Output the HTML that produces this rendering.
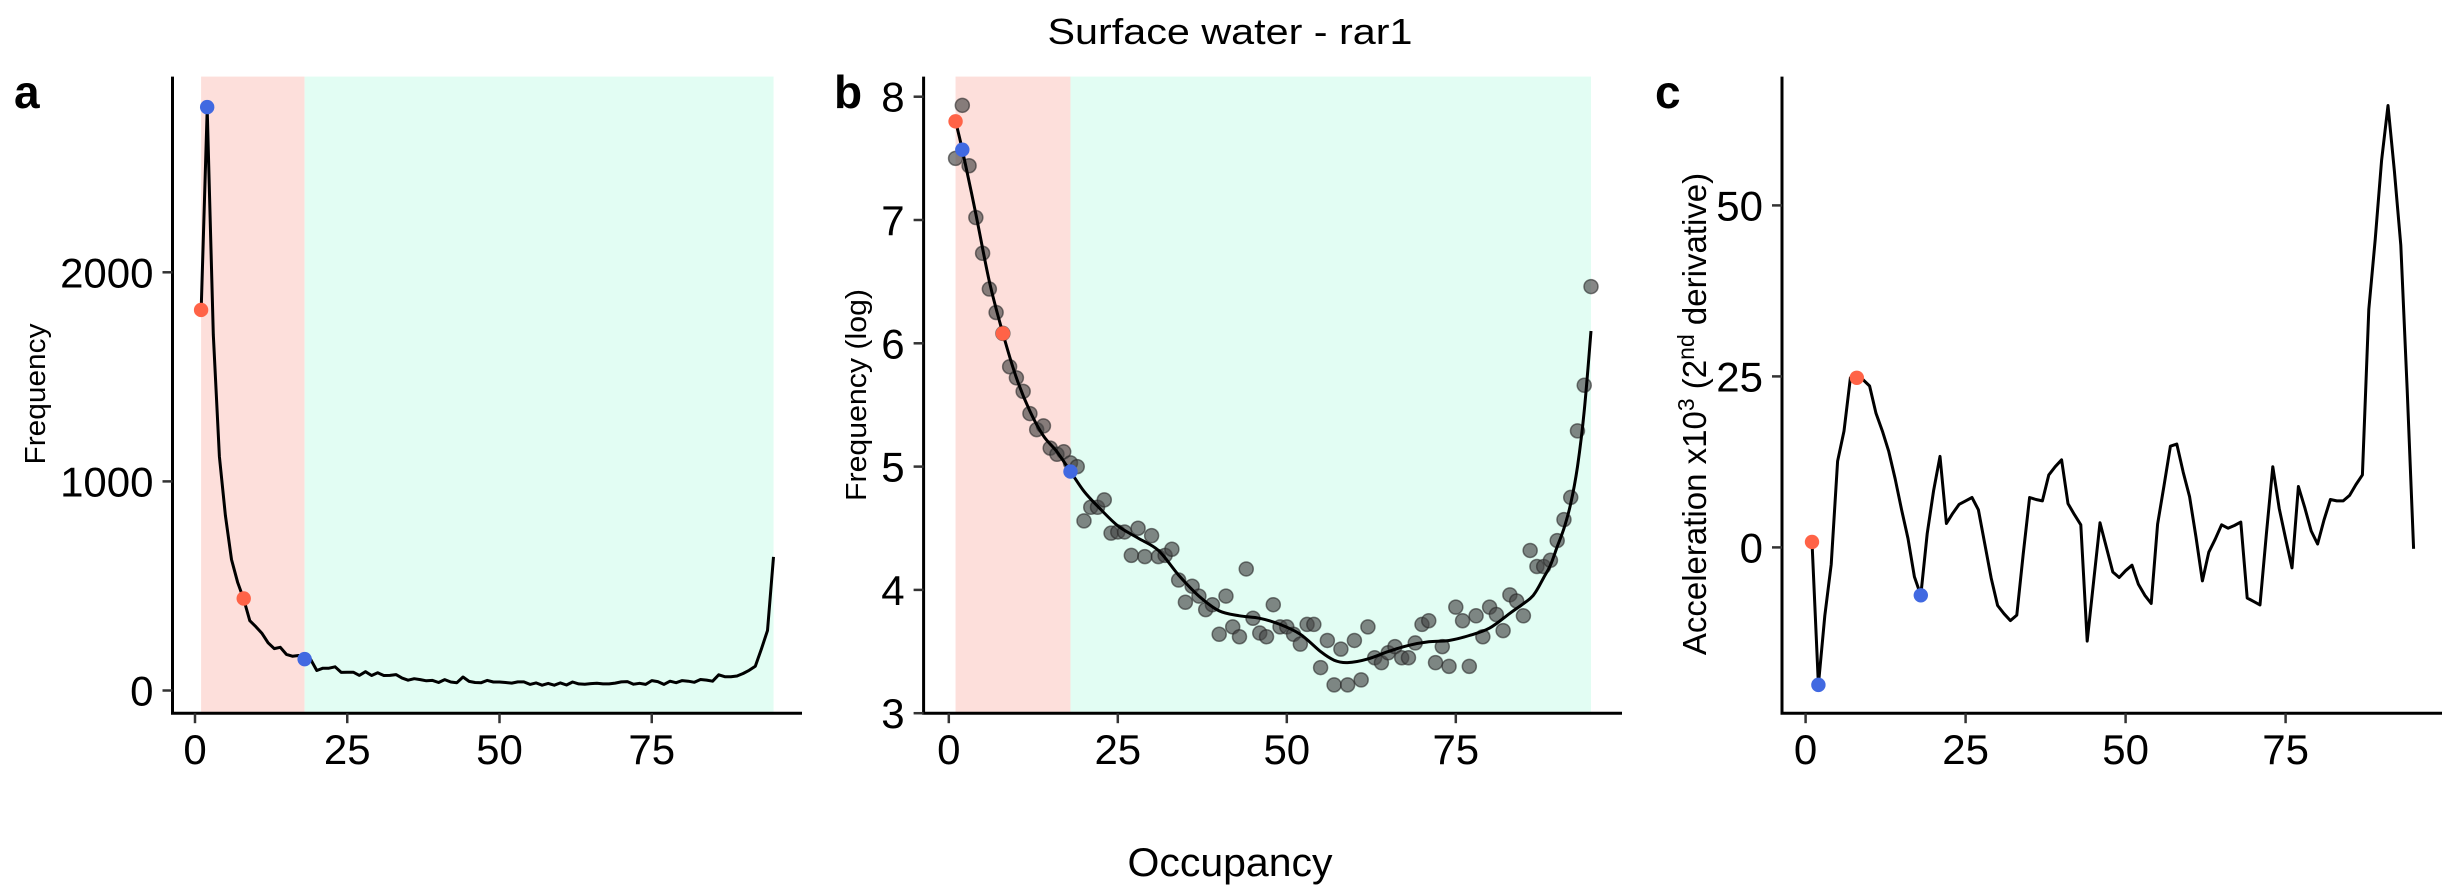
<!DOCTYPE html>
<html><head><meta charset="utf-8"><style>
html,body{margin:0;padding:0;background:#fff;}
svg{display:block;font-family:"Liberation Sans",Arial,sans-serif;}
</style></head><body>
<svg id="chart" width="2460" height="885" viewBox="0 0 2460 885" xmlns="http://www.w3.org/2000/svg">
<text x="1230" y="44" font-size="36" text-anchor="middle" textLength="365" lengthAdjust="spacingAndGlyphs">Surface water - rar1</text>
<text x="1230" y="876" font-size="40" text-anchor="middle" textLength="205" lengthAdjust="spacingAndGlyphs">Occupancy</text>
<g id="pa"></g>
<g id="pb"></g>
<g id="pc"></g>
</svg>
<script>
// ---- data ----
const logFrequency = [7.5,7.93,7.44,7.02,6.73,6.44,6.25,6.08,5.81,5.72,5.61,5.43,5.3,5.33,5.15,5.1,5.12,5.03,5.0,4.56,
4.67,4.67,4.73,4.46,4.47,4.47,4.28,4.5,4.27,4.44,4.27,4.28,4.33,4.08,3.9,4.03,3.95,3.84,3.88,3.64,
3.95,3.7,3.62,4.17,3.77,3.65,3.62,3.88,3.7,3.7,3.64,3.56,3.72,3.72,3.37,3.59,3.23,3.52,3.23,3.59,
3.27,3.7,3.45,3.41,3.49,3.54,3.45,3.45,3.57,3.72,3.75,3.41,3.54,3.38,3.86,3.75,3.38,3.79,3.62,3.86,
3.8,3.67,3.96,3.91,3.79,4.32,4.19,4.19,4.24,4.4,4.57,4.75,5.29,5.66,6.46];
const smoothX = [1,2,4,6,8,10,12,14,16,18,20,22,25,28,31,34,37,40,43,46,49,52,55,57,59,62,65,68,71,74,77,80,83,86,87,88,89,90,91,92,93,94,95];
const smoothY = [7.8,7.57,7.05,6.5,6.08,5.72,5.45,5.25,5.12,4.96,4.8,4.68,4.52,4.42,4.32,4.12,3.95,3.83,3.79,3.77,3.72,3.64,3.5,3.43,3.41,3.44,3.5,3.55,3.58,3.59,3.63,3.69,3.81,3.93,4.0,4.1,4.2,4.35,4.5,4.7,5.0,5.45,6.1];
const acceleration = [0.8,-20.1,-10,-2.5,12.6,17,24.8,24.8,24.5,23.6,19.6,17,14,10,5.5,1.3,-4.3,-7,2,8.3,
13.3,3.5,5,6.3,6.8,7.3,5.5,0.5,-4.5,-8.5,-9.7,-10.7,-9.9,-1,7.3,7.0,6.8,10.6,11.8,12.8,
6.4,4.8,3.3,-13.7,-5,3.6,0,-3.6,-4.4,-3.4,-2.6,-5.4,-7,-8.2,3.4,9,14.8,15.1,11,7.4,
1.5,-4.9,-0.7,1.2,3.3,2.8,3.2,3.7,-7.4,-7.9,-8.4,2,11.8,5.7,1.3,-3,8.9,5.8,2.4,0.5,
4,7,6.8,6.8,7.6,9.2,10.6,34.8,45,56.6,64.6,55,44.2,23,-0.2];
const freqMarkX = [1,2,8,18];
const freqMarkY = [1820,2790,440,150];
const logMarkY = [7.8,7.57,6.08,4.96];
const accMarkY = [0.8,-20.1,24.8,-7];
const markColors = ["#FF6347","#4169E1","#FF6347","#4169E1"];
const xTicks = [0,25,50,75];
const aTicks = [0,1000,2000];
const bTicks = [3,4,5,6,7,8];
const cTicks = [0,25,50];
const regionBreaks = [1,18,95];

const NS="http://www.w3.org/2000/svg";
function mk(parent,tag,attrs,txt){const e=document.createElementNS(NS,tag);for(const k in attrs)e.setAttribute(k,attrs[k]);if(txt!==undefined)e.textContent=txt;parent.appendChild(e);return e;}

function axes(g,o){
  const axLine=mk(g,'path',{d:`M${o.ax},${o.top} V${o.base} H${o.right}`,fill:'none',stroke:'#000','stroke-width':3});
  
  
  xTicks.forEach(t=>{
    const X=o.x(t);
    const tk=mk(g,'line',{x1:X,x2:X,y1:o.base,y2:o.base+10,stroke:'#333','stroke-width':2.5});
    
    
    const lb=mk(g,'text',{x:X,y:764,'font-size':42,'text-anchor':'middle'},String(t));
    
    
  });
  o.yt.forEach(t=>{
    const Y=o.y(t);
    const tk=mk(g,'line',{x1:o.ax-10,x2:o.ax,y1:Y,y2:Y,stroke:'#333','stroke-width':2.5});
    
    
    const lb=mk(g,'text',{x:o.ax-19,y:Y+15,'font-size':42,'text-anchor':'end'},String(t));
    
    
  });
  const pl=mk(g,'text',{x:o.lx,y:108,'font-size':46,'font-weight':'bold'},o.letter);
  
  
}
function regions(g,o){
  const cols=['#FDDFDB','#E2FDF3'];
  for(let i=0;i<2;i++){
    const r=mk(g,'rect',{x:o.x(regionBreaks[i]),y:o.top,width:o.x(regionBreaks[i+1])-o.x(regionBreaks[i]),height:o.base-o.top,fill:cols[i]});
    
    
  }
}
function ylabel(g,x,y,size,txt,name,len){
  const a={transform:`translate(${x},${y}) rotate(-90)`,'font-size':size,'text-anchor':'middle'};
  if(len){a.textLength=len;a.lengthAdjust='spacingAndGlyphs';}
  const t=mk(g,'text',a,txt);
  
  
  return t;
}
function marks(g,o,ys){
  freqMarkX.forEach((v,i)=>{
    const c=mk(g,'circle',{cx:o.x(v),cy:o.y(ys[i]),r:7.2,fill:markColors[i]});
    
    
  });
}
const TOP=76.6, BASE=713.2;

// Panel a
(function(){
  const g=document.getElementById('pa');
  const o={ax:172.5,top:TOP,base:BASE,right:802,lx:14,letter:'a',yt:aTicks,
    x:v=>195+v*6.09,y:v=>690.5-v*0.2091};
  regions(g,o);
  const pts=logFrequency.map((v,i)=>[o.x(i+1),o.y(Math.exp(v))]);
  const ln=mk(g,'path',{d:'M'+pts.map(p=>p[0].toFixed(1)+','+p[1].toFixed(1)).join('L'),fill:'none',stroke:'#000','stroke-width':3,'stroke-linejoin':'round'});
  
  
  marks(g,o,freqMarkY);
  axes(g,o);
  ylabel(g,45,394,29,'Frequency','y-axis-title',141);
})();

// Panel b
(function(){
  const g=document.getElementById('pb');
  const o={ax:923.6,top:TOP,base:BASE,right:1622,lx:834,letter:'b',yt:bTicks,
    x:v=>948.8+v*6.76,y:v=>713.2-(v-3)*123.3};
  regions(g,o);
  logFrequency.forEach((v,i)=>{
    const c=mk(g,'circle',{cx:o.x(i+1),cy:o.y(v),r:7,fill:'rgba(70,70,70,0.65)',stroke:'rgba(40,40,40,0.6)','stroke-width':1.5});
    
    
  });
  const P=smoothX.map((v,i)=>[o.x(v),o.y(smoothY[i])]);
  let d='M'+P[0][0]+','+P[0][1];
  for(let i=0;i<P.length-1;i++){
    const p0=P[Math.max(0,i-1)],p1=P[i],p2=P[i+1],p3=P[Math.min(P.length-1,i+2)];
    const c1=[p1[0]+(p2[0]-p0[0])/6,p1[1]+(p2[1]-p0[1])/6];
    const c2=[p2[0]-(p3[0]-p1[0])/6,p2[1]-(p3[1]-p1[1])/6];
    d+=`C${c1[0].toFixed(1)},${c1[1].toFixed(1)} ${c2[0].toFixed(1)},${c2[1].toFixed(1)} ${p2[0].toFixed(1)},${p2[1].toFixed(1)}`;
  }
  const ln=mk(g,'path',{d:d,fill:'none',stroke:'#000','stroke-width':3});
  
  
  marks(g,o,logMarkY);
  axes(g,o);
  ylabel(g,866,395,29,'Frequency (log)','y-axis-title',212);
})();

// Panel c
(function(){
  const g=document.getElementById('pc');
  const o={ax:1782,top:TOP,base:BASE,right:2442,lx:1655,letter:'c',yt:cTicks,
    x:v=>1805.6+v*6.4,y:v=>547.4-v*6.84};
  const pts=acceleration.map((v,i)=>[o.x(i+1),o.y(v)]);
  const ln=mk(g,'path',{d:'M'+pts.map(p=>p[0].toFixed(1)+','+p[1].toFixed(1)).join('L'),fill:'none',stroke:'#000','stroke-width':3,'stroke-linejoin':'round'});
  
  
  marks(g,o,accMarkY);
  axes(g,o);
  const t=ylabel(g,1706,414,33,'','y-axis-title');
  const parts=[['Acceleration x10',0],['3',1],[' (2',0],['nd',1],[' derivative)',0]];
  parts.forEach(p=>{
    mk(t,'tspan',p[1]?{'font-size':23,dy:-12}:{'font-size':33,dy:0},p[0]);
  });
  const ts=t.querySelectorAll('tspan');
  ts[2].setAttribute('dy',12);ts[4].setAttribute('dy',12);
})();
</script>
</body></html>
